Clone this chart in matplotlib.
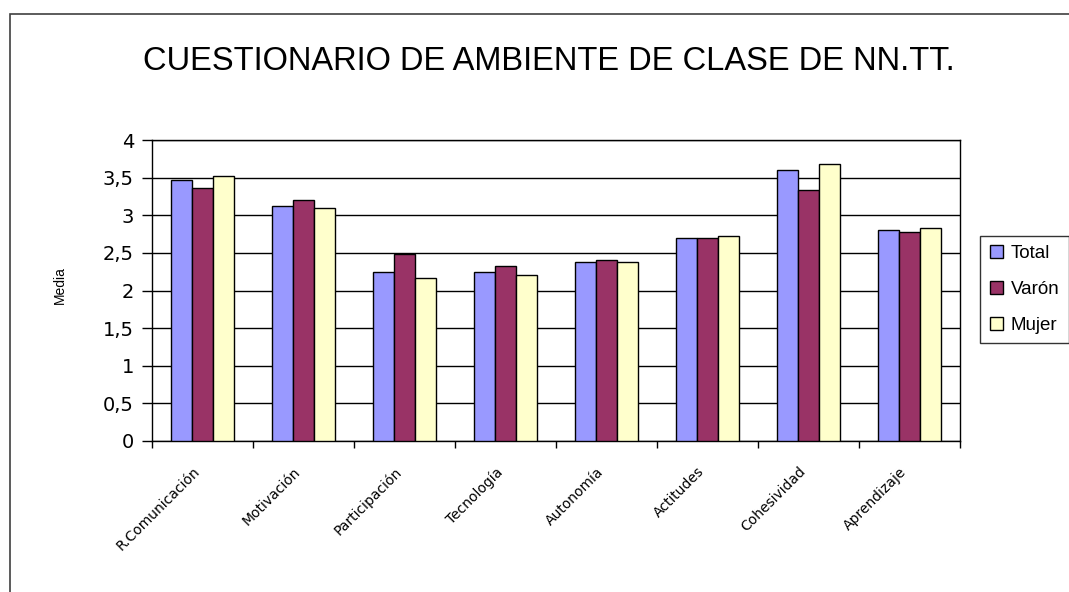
import matplotlib
matplotlib.use("Agg")
import matplotlib.pyplot as plt
import matplotlib.patches as mpatches
from matplotlib.ticker import FuncFormatter
import numpy as np

plt.rcParams['font.family'] = ['Liberation Sans', 'DejaVu Sans']

categorias = ["R.Comunicación", "Motivación", "Participación", "Tecnología",
              "Autonomía", "Actitudes", "Cohesividad", "Aprendizaje"]
total = [3.47, 3.12, 2.25, 2.25, 2.38, 2.70, 3.60, 2.81]
varon = [3.36, 3.20, 2.48, 2.33, 2.41, 2.70, 3.33, 2.78]
mujer = [3.52, 3.10, 2.17, 2.20, 2.38, 2.73, 3.68, 2.83]
series = ["Total", "Varón", "Mujer"]
colores = ["#9999FF", "#993366", "#FFFFCC"]

fig = plt.figure(figsize=(10.69, 5.92), dpi=100)
ax = fig.add_axes([152/1069, 1-441/592, (960-152)/1069, (441-140)/592])

# marco exterior (solo se ven lados izquierdo y superior)
fig.patches.append(mpatches.Rectangle((10/1069, -0.5), 2, 1.5 - 14/592,
                                      transform=fig.transFigure, fill=False,
                                      edgecolor="#404040", linewidth=1.2))

x = np.arange(len(categorias))
w = 0.21
for i, (vals, nombre, c) in enumerate(zip([total, varon, mujer], series, colores)):
    ax.bar(x + (i - 1) * w, vals, w, color=c, edgecolor="black", linewidth=1.0,
           label=nombre, zorder=3)

ax.set_xlim(-0.5, len(categorias) - 0.5)
ax.set_ylim(0, 4)
ax.set_yticks(np.arange(0, 4.01, 0.5))
ax.yaxis.set_major_formatter(FuncFormatter(lambda v, p: ("%g" % v).replace(".", ",")))
ax.grid(axis="y", color="black", linewidth=1.0, zorder=0)

ax.set_xticks(np.arange(-0.5, len(categorias), 1.0))
ax.set_xticklabels([])
ax.set_xticks(x - 0.1, minor=True)
ax.set_xticklabels(categorias, minor=True, rotation=45, ha="right",
                   rotation_mode="anchor", fontsize=10, family="DejaVu Sans")
ax.tick_params(axis="x", which="minor", length=0, pad=17)
ax.tick_params(axis="x", which="major", length=5, width=1, direction="out")
ax.tick_params(axis="y", length=7, width=1, direction="out", pad=6)
for t in ax.get_yticklabels():
    t.set_family("DejaVu Sans")
    t.set_fontsize(14)

for s in ax.spines.values():
    s.set_color("black")
    s.set_linewidth(1.0)

ax.set_ylabel("Media", fontsize=10)
ax.yaxis.set_label_coords((67 - 152) / 808, (441 - 285) / 301)

fig.text(549/1069, 1-62/592, "CUESTIONARIO DE AMBIENTE DE CLASE DE NN.TT.",
         ha="center", va="center", fontsize=23.5)

leg = ax.legend(loc="center", bbox_to_anchor=(1024.5/1069, 1-289.5/592),
                bbox_transform=fig.transFigure, frameon=True,
                fancybox=False, edgecolor="black", fontsize=13.5,
                handlelength=0.7, handleheight=0.7, handletextpad=0.4,
                labelspacing=1.0, borderpad=0.5, borderaxespad=0)
leg.get_frame().set_linewidth(1.0)

fig.savefig("out.png", dpi=100, facecolor="white")
